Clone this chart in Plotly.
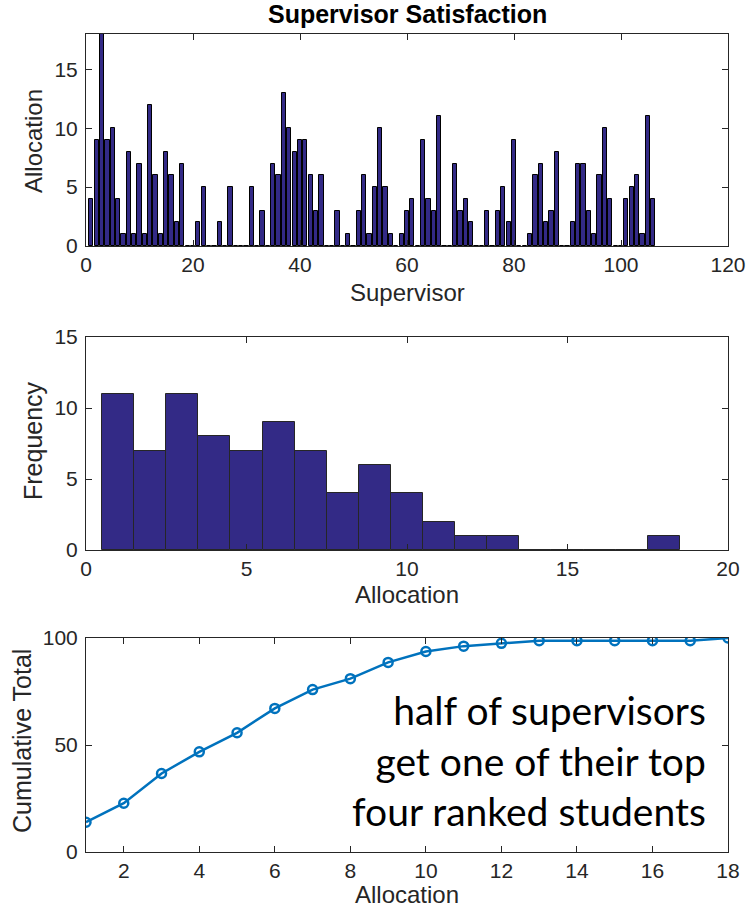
import plotly.graph_objects as go

# ---- data ----
supervisor_ids = list(range(1, 107))
allocation = [4, 9, 18, 9, 10, 4, 1, 8, 1, 7, 1, 12, 6, 1, 8, 6, 2, 7, 0, 0,
              2, 5, 0, 0, 2, 0, 5, 0, 0, 0, 5, 0, 3, 0, 7, 6, 13, 10, 8, 9,
              9, 6, 3, 6, 0, 0, 3, 0, 1, 0, 3, 6, 1, 5, 10, 5, 1, 0, 1, 3,
              4, 0, 9, 4, 3, 11, 0, 0, 7, 3, 4, 2, 0, 0, 3, 0, 3, 5, 2, 9,
              0, 0, 1, 6, 7, 2, 3, 8, 0, 0, 2, 7, 7, 3, 1, 6, 10, 4, 0, 0,
              4, 5, 6, 1, 11, 4]
hist_bins = list(range(1, 19))
hist_counts = [11, 7, 11, 8, 7, 9, 7, 4, 6, 4, 2, 1, 1, 0, 0, 0, 0, 1]
cum_x = list(range(1, 19))
cum_total = [13.9, 22.8, 36.7, 46.8, 55.7, 67.1, 75.9, 81.0, 88.6, 93.7,
             96.2, 97.5, 98.7, 98.7, 98.7, 98.7, 98.7, 100.0]

BAR = "#332a86"
AX = "#262626"
FONT = "Liberation Sans"
TICK = 21
TITLE = 24

fig = go.Figure()
fig.add_trace(go.Bar(x=supervisor_ids, y=allocation, width=0.8,
                     marker=dict(color=BAR, line=dict(color="black", width=1)),
                     xaxis="x", yaxis="y"))
fig.add_trace(go.Bar(x=hist_bins, y=hist_counts, width=1,
                     marker=dict(color=BAR, line=dict(color=AX, width=1)),
                     xaxis="x2", yaxis="y2"))
fig.add_trace(go.Scatter(x=cum_x, y=cum_total, mode="lines+markers",
                         line=dict(color="#0072BD", width=2.5),
                         marker=dict(symbol="circle-open", size=9,
                                     color="#0072BD", line=dict(width=2.5)),
                         xaxis="x3", yaxis="y3"))

W, H = 756, 910
xd = [86 / W, 728 / W]


def yd(top, bottom):
    return [1 - bottom / H, 1 - top / H]


common = dict(showline=True, linecolor=AX, linewidth=1, mirror="ticks",
              ticks="inside", ticklen=6, tickcolor=AX, tickwidth=1,
              showgrid=False, zeroline=False, automargin=False,
              tickfont=dict(family=FONT, size=TICK, color=AX))

fig.update_layout(
    width=W, height=H, margin=dict(l=0, r=0, t=0, b=0, pad=0, autoexpand=False),
    paper_bgcolor="white", plot_bgcolor="white", showlegend=False,
    bargap=0,
    xaxis=dict(domain=xd, anchor="y", range=[0, 120], tickvals=[0, 20, 40, 60, 80, 100, 120], **common),
    yaxis=dict(domain=yd(34, 246), anchor="x", range=[0, 18], tickvals=[0, 5, 10, 15], ticklabelstandoff=3, **common),
    xaxis2=dict(domain=xd, anchor="y2", range=[0, 20], tickvals=[0, 5, 10, 15, 20], **common),
    yaxis2=dict(domain=yd(337, 550), anchor="x2", range=[0, 15], tickvals=[0, 5, 10, 15], ticklabelstandoff=3, **common),
    xaxis3=dict(domain=xd, anchor="y3", range=[1, 18], tickvals=[2, 4, 6, 8, 10, 12, 14, 16, 18], **common),
    yaxis3=dict(domain=yd(638, 852), anchor="x3", range=[0, 100], tickvals=[0, 50, 100], ticklabelstandoff=3, **common),
)


def ann(text, x, y, size, angle=0, bold=False, family=FONT, color=AX, xanchor="center", align="center"):
    fig.add_annotation(text=f"<b>{text}</b>" if bold else text, x=x / W, y=1 - y / H,
                       xref="paper", yref="paper", showarrow=False, textangle=angle,
                       xanchor=xanchor, yanchor="middle", align=align,
                       font=dict(family=family, size=size, color=color))


ann("Supervisor Satisfaction", 407, 14, 25, bold=True, color="black")
ann("Supervisor", 407, 292, TITLE)
ann("Allocation", 33, 141, TITLE, angle=-90)
ann("Allocation", 407, 594, TITLE)
ann("Frequency", 33, 441, 25, angle=-90)
ann("Allocation", 407, 894, TITLE)
ann("Cumulative Total", 22, 741, 25, angle=-90)
fig.add_annotation(text="half of supervisors<br>get one of their top<br>four ranked students",
                   x=708 / W, y=1 - 760 / H, xref="paper", yref="paper", showarrow=False,
                   xanchor="right", yanchor="middle", align="right",
                   font=dict(family="Lato", size=39, color="black"))

fig.write_html("out.html")
